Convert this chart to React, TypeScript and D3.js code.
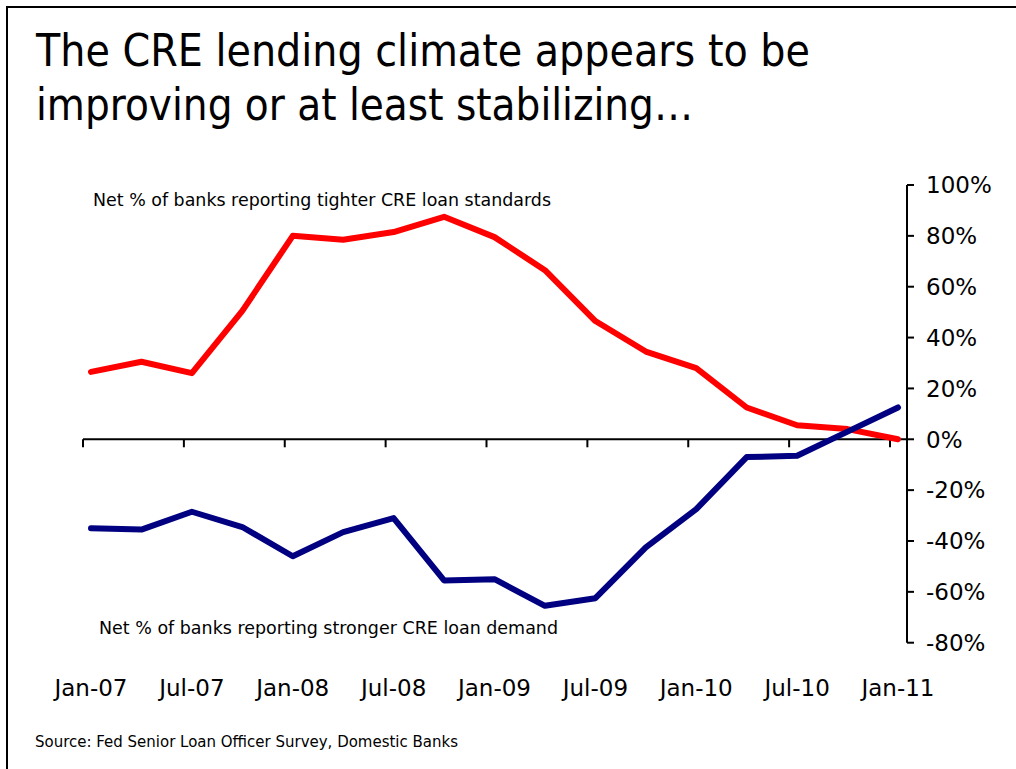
import { useEffect, useRef } from "react";
import * as d3 from "d3";

// quarterly survey dates, Jan-07 .. Jan-11
const quarters = [
  "Jan-07", "Apr-07", "Jul-07", "Oct-07",
  "Jan-08", "Apr-08", "Jul-08", "Oct-08",
  "Jan-09", "Apr-09", "Jul-09", "Oct-09",
  "Jan-10", "Apr-10", "Jul-10", "Oct-10",
  "Jan-11",
];

// Net % of banks reporting tighter CRE loan standards
const tighterStandards = [
  26.5, 30.5, 26, 50.5, 80, 78.5, 81.5, 87.5, 79.5, 66.5, 46.5, 34.5, 28, 12.5,
  5.5, 4, 0,
];

// Net % of banks reporting stronger CRE loan demand
const strongerDemand = [
  -35, -35.5, -28.5, -34.5, -46, -36.5, -31, -55.5, -55, -65.5, -62.5, -42.5,
  -27.5, -7, -6.5, 3, 12.5,
];

const yTicks = [100, 80, 60, 40, 20, 0, -20, -40, -60, -80];
const xTickLabels = quarters.filter((_, i) => i % 2 === 0);

const titleLines = [
  "The CRE lending climate appears to be",
  "improving or at least stabilizing…",
];
const standardsLabel = "Net % of banks reporting tighter CRE loan standards";
const demandLabel = "Net % of banks reporting stronger CRE loan demand";
const sourceNote = "Source: Fed Senior Loan Officer Survey, Domestic Banks";

const FONT = "Tahoma, 'DejaVu Sans', sans-serif";

const Chart: React.FC = () => {
  const ref = useRef<SVGSVGElement | null>(null);

  useEffect(() => {
    if (!ref.current) return;
    const svg = d3.select(ref.current);
    svg.selectAll("*").remove();

    // slide frame (only top/left edges show inside the window)
    svg
      .append("path")
      .attr("d", "M7,769 V7 H1016")
      .attr("fill", "none")
      .attr("stroke", "#000")
      .attr("stroke-width", 2);

    // title
    titleLines.forEach((line, i) => {
      svg
        .append("text")
        .attr("x", 36)
        .attr("y", 66 + i * 53.5)
        .attr("font-family", FONT)
        .attr("font-size", 44)
        .attr("textLength", i === 0 ? 774 : 657)
        .attr("lengthAdjust", "spacingAndGlyphs")
        .text(line);
    });

    const x = d3.scaleLinear().domain([0, quarters.length - 1]).range([91, 898]);
    const y = d3.scaleLinear().domain([-80, 100]).range([642.7, 185]);
    const axisX = 907;
    const tickShift = 8; // category ticks sit slightly left of the points

    // horizontal zero axis
    const xAxis = svg.append("g");
    xAxis
      .append("line")
      .attr("x1", x(0) - tickShift)
      .attr("x2", axisX)
      .attr("y1", y(0))
      .attr("y2", y(0))
      .attr("stroke", "#000")
      .attr("stroke-width", 2);

    xAxis
      .selectAll("line.tick")
      .data(quarters.map((_, i) => i).filter((i) => i % 2 === 0))
      .join("line")
      .attr("class", "tick")
      .attr("x1", (i) => x(i) - tickShift)
      .attr("x2", (i) => x(i) - tickShift)
      .attr("y1", y(0))
      .attr("y2", y(0) + 8)
      .attr("stroke", "#000")
      .attr("stroke-width", 2);

    svg
      .append("g")
      .selectAll("text")
      .data(xTickLabels)
      .join("text")
      .attr("x", (d) => x(quarters.indexOf(d)))
      .attr("y", 696)
      .attr("text-anchor", "middle")
      .attr("font-family", FONT)
      .attr("font-size", 23)
      .text((d) => d);

    // right-hand value axis
    const yAxis = svg.append("g");
    yAxis
      .append("line")
      .attr("x1", axisX)
      .attr("x2", axisX)
      .attr("y1", y(100))
      .attr("y2", y(-80))
      .attr("stroke", "#000")
      .attr("stroke-width", 2);

    yAxis
      .selectAll("line.tick")
      .data(yTicks)
      .join("line")
      .attr("class", "tick")
      .attr("x1", axisX)
      .attr("x2", axisX + 7)
      .attr("y1", (d) => y(d))
      .attr("y2", (d) => y(d))
      .attr("stroke", "#000")
      .attr("stroke-width", 2);

    yAxis
      .selectAll("text")
      .data(yTicks)
      .join("text")
      .attr("x", 926)
      .attr("y", (d) => y(d))
      .attr("dy", "0.36em")
      .attr("font-family", FONT)
      .attr("font-size", 23)
      .text((d) => `${d}%`);

    // series
    const line = d3
      .line<number>()
      .x((_, i) => x(i))
      .y((d) => y(d));

    [
      { data: tighterStandards, color: "#FF0000" },
      { data: strongerDemand, color: "#000080" },
    ].forEach((s) => {
      svg
        .append("path")
        .datum(s.data)
        .attr("fill", "none")
        .attr("stroke", s.color)
        .attr("stroke-width", 6)
        .attr("stroke-linejoin", "round")
        .attr("stroke-linecap", "round")
        .attr("d", line);
    });

    // series annotations
    svg
      .append("text")
      .attr("x", 93)
      .attr("y", 206)
      .attr("font-family", FONT)
      .attr("font-size", 17)
      .attr("textLength", 458)
      .attr("lengthAdjust", "spacingAndGlyphs")
      .text(standardsLabel);

    svg
      .append("text")
      .attr("x", 99)
      .attr("y", 634)
      .attr("font-family", FONT)
      .attr("font-size", 17)
      .attr("textLength", 459)
      .attr("lengthAdjust", "spacingAndGlyphs")
      .text(demandLabel);

    svg
      .append("text")
      .attr("x", 35)
      .attr("y", 747)
      .attr("font-family", FONT)
      .attr("font-size", 15)
      .attr("textLength", 423)
      .attr("lengthAdjust", "spacingAndGlyphs")
      .text(sourceNote);
  }, []);

  return (
    <svg
      ref={ref}
      width={1016}
      height={769}
      style={{ position: "absolute", left: 0, top: 0, display: "block", background: "#fff" }}
    />
  );
};

export default function App() {
  return <Chart />;
}
